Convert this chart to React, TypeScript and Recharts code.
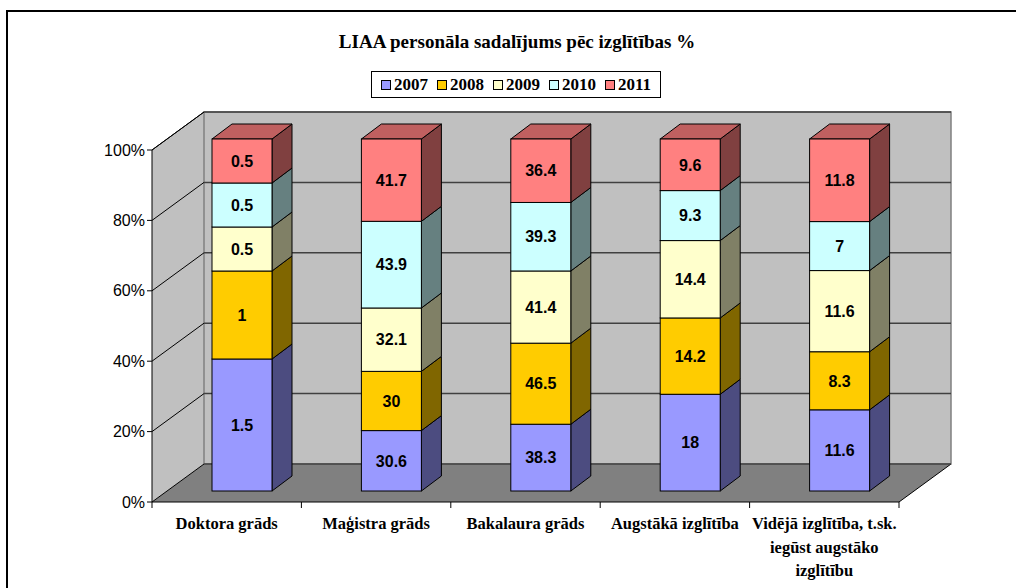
import React from 'react';
import { BarChart, Bar, XAxis, YAxis, CartesianGrid } from 'recharts';

// --- data ---
const categories = [
  'Doktora grāds',
  'Maģistra grāds',
  'Bakalaura grāds',
  'Augstākā izglītība',
  'Vidējā izglītība, t.sk. iegūst augstāko izglītību',
];
const years = ['2007', '2008', '2009', '2010', '2011'];
const values2007 = [1.5, 30.6, 38.3, 18, 11.6];
const values2008 = [1, 30, 46.5, 14.2, 8.3];
const values2009 = [0.5, 32.1, 41.4, 14.4, 11.6];
const values2010 = [0.5, 43.9, 39.3, 9.3, 7];
const values2011 = [0.5, 41.7, 36.4, 9.6, 11.8];
const yTicks = [0, 0.2, 0.4, 0.6, 0.8, 1];

const seriesValues = [values2007, values2008, values2009, values2010, values2011];

// front / side / top colours per year (excel 2003 palette)
const frontColors = ['#9999FF', '#FFCC00', '#FFFFCC', '#CCFFFF', '#FF8080'];
const sideColors = ['#4C4C80', '#806600', '#808066', '#668080', '#804040'];
const topColors = ['#7373BF', '#BF9900', '#BFBF99', '#99BFBF', '#C06060'];

const data = categories.map((name, i) => {
  const row: Record<string, string | number> = { name };
  years.forEach((y, s) => {
    row['y' + y] = seriesValues[s][i];
  });
  return row;
});

// --- layout ---
const W = 1016;
const H = 588;
const PLOT_LEFT = 152;
const PLOT_TOP = 150;
const PLOT_RIGHT = 899;
const PLOT_BOTTOM = 502;
const WALL_DX = 52;
const WALL_DY = -38;
const BAR_DX = 15;
const BAR_DY = -11;
const DEPTH_DX = 20;
const DEPTH_DY = -15;

const SERIF = '"Liberation Serif", "Times New Roman", serif';
const SANS = '"Liberation Sans", Arial, sans-serif';

const measureCtx = typeof document !== 'undefined' ? document.createElement('canvas').getContext('2d') : null;
function wrap(text: string, maxW: number, font: string) {
  if (!measureCtx) return [text];
  measureCtx.font = font;
  const lines: string[] = [];
  let cur = '';
  for (const w of text.split(' ')) {
    const t = cur ? cur + ' ' + w : w;
    if (cur && measureCtx.measureText(t).width > maxW) {
      lines.push(cur);
      cur = w;
    } else cur = t;
  }
  if (cur) lines.push(cur);
  return lines;
}

const makeShape = (key: string, s: number, isTop: boolean) => (props: any) => {
  const { x, y, width, height, payload } = props;
  if (!width || height == null) return <g />;
  const fx = x + BAR_DX;
  const fy = y + BAR_DY;
  const w = width;
  const h = height;
  return (
    <g>
      <polygon
        points={`${fx + w},${fy} ${fx + w + DEPTH_DX},${fy + DEPTH_DY} ${fx + w + DEPTH_DX},${fy + h + DEPTH_DY} ${fx + w},${fy + h}`}
        fill={sideColors[s]}
        stroke="#000"
        strokeWidth={1}
      />
      {isTop && (
        <polygon
          points={`${fx},${fy} ${fx + DEPTH_DX},${fy + DEPTH_DY} ${fx + w + DEPTH_DX},${fy + DEPTH_DY} ${fx + w},${fy}`}
          fill={topColors[s]}
          stroke="#000"
          strokeWidth={1}
        />
      )}
      <rect x={fx} y={fy} width={w} height={h} fill={frontColors[s]} stroke="#000" strokeWidth={1} />
      <text
        x={fx + w / 2}
        y={fy + h / 2}
        dy="0.36em"
        textAnchor="middle"
        fontFamily={SANS}
        fontWeight="bold"
        fontSize={16}
        fill="#000"
      >
        {payload[key]}
      </text>
    </g>
  );
};

// grid lines: walls + floor drawn with the first line, then the wall grid
const gridLine = (props: any) => {
  const { x1, x2, y1, index } = props;
  const y = y1;
  const L = PLOT_LEFT, R = PLOT_RIGHT, T = PLOT_TOP, B = PLOT_BOTTOM;
  return (
    <g key={`gl-${index}-${y}`}>
      {index === 0 && (
        <g>
          <polygon
            points={`${L},${T} ${L + WALL_DX},${T + WALL_DY} ${L + WALL_DX},${B + WALL_DY} ${L},${B}`}
            fill="#C0C0C0"
          />
          <polygon
            points={`${L + WALL_DX},${T + WALL_DY} ${R + WALL_DX},${T + WALL_DY} ${R + WALL_DX},${B + WALL_DY} ${L + WALL_DX},${B + WALL_DY}`}
            fill="#C0C0C0"
            stroke="#808080"
            strokeWidth={1.5}
          />
          <polygon
            points={`${L},${B} ${R},${B} ${R + WALL_DX},${B + WALL_DY} ${L + WALL_DX},${B + WALL_DY}`}
            fill="#808080"
          />
          <line x1={L} y1={T} x2={L + WALL_DX} y2={T + WALL_DY} stroke="#000" />
          <line x1={R} y1={B} x2={R + WALL_DX} y2={B + WALL_DY} stroke="#000" />
        </g>
      )}
      <line x1={x1} y1={y} x2={x1 + WALL_DX} y2={y + WALL_DY} stroke="#000" strokeWidth={1} />
      <line x1={x1 + WALL_DX} y1={y + WALL_DY} x2={x2 + WALL_DX} y2={y + WALL_DY} stroke="#404040" strokeWidth={1.5} />
    </g>
  );
};

const XTick = (props: any) => {
  const { x, payload, index } = props;
  const half = (PLOT_RIGHT - PLOT_LEFT) / categories.length / 2;
  const font = `bold 16.5px ${SERIF}`;
  const lines = wrap(String(payload.value), 160, font);
  return (
    <g>
      <line x1={x - half} y1={PLOT_BOTTOM} x2={x - half} y2={PLOT_BOTTOM + 6} stroke="#000" />
      {index === categories.length - 1 && (
        <line x1={x + half} y1={PLOT_BOTTOM} x2={x + half} y2={PLOT_BOTTOM + 6} stroke="#000" />
      )}
      <text x={x} y={PLOT_BOTTOM + 27} textAnchor="middle" fontFamily={SERIF} fontWeight="bold" fontSize={16.5} fill="#000">
        {lines.map((l, i) => (
          <tspan key={i} x={x} dy={i === 0 ? 0 : 23.5}>
            {l}
          </tspan>
        ))}
      </text>
    </g>
  );
};

export default function App() {
  return (
    <div style={{ position: 'absolute', left: 0, top: 0, width: W, height: H, overflow: 'hidden', background: '#fff' }}>
      <div
        style={{
          position: 'absolute',
          left: 6,
          top: 10,
          width: W + 20,
          height: H + 20,
          border: '2px solid #000',
          boxSizing: 'border-box',
        }}
      />
      <div
        style={{
          position: 'absolute',
          left: 0,
          top: 31,
          width: 1034,
          textAlign: 'center',
          fontFamily: SERIF,
          fontWeight: 'bold',
          fontSize: 19,
          lineHeight: '22px',
          color: '#000',
        }}
      >
        LIAA personāla sadalījums pēc izglītības %
      </div>
      <div
        style={{
          position: 'absolute',
          left: 371,
          top: 71,
          width: 290,
          height: 27,
          border: '1px solid #000',
          boxSizing: 'border-box',
          display: 'flex',
          alignItems: 'center',
          justifyContent: 'center',
          gap: 9,
          fontFamily: SERIF,
          fontWeight: 'bold',
          fontSize: 17,
          background: '#fff',
        }}
      >
        {years.map((y, s) => (
          <div key={y} style={{ display: 'flex', alignItems: 'center', gap: 3 }}>
            <span
              style={{
                display: 'inline-block',
                width: 8,
                height: 8,
                border: '1px solid #000',
                background: frontColors[s],
              }}
            />
            <span>{y}</span>
          </div>
        ))}
      </div>
      <div style={{ position: 'absolute', left: 0, top: 0 }}>
        <BarChart
          width={W}
          height={H}
          data={data}
          stackOffset="expand"
          margin={{ top: PLOT_TOP, right: W - PLOT_RIGHT, bottom: H - PLOT_BOTTOM - 80, left: PLOT_LEFT - 60 }}
          barSize={60}
        >
          <CartesianGrid vertical={false} horizontal={gridLine} fill="none" />
          <XAxis
            dataKey="name"
            height={80}
            interval={0}
            axisLine={{ stroke: '#000' }}
            tickLine={false}
            tick={<XTick />}
          />
          <YAxis
            width={60}
            type="number"
            domain={[0, 1]}
            ticks={yTicks}
            tickFormatter={(v: number) => `${Math.round(v * 100)}%`}
            axisLine={{ stroke: '#000' }}
            tickLine={{ stroke: '#000' }}
            tickSize={5}
            tickMargin={2}
            tick={{ fill: '#000', fontSize: 16, fontFamily: SANS }}
          />
          {years.map((y, s) => (
            <Bar
              key={y}
              dataKey={'y' + y}
              stackId="a"
              isAnimationActive={false}
              shape={makeShape('y' + y, s, s === years.length - 1)}
            />
          ))}
        </BarChart>
      </div>
    </div>
  );
}
